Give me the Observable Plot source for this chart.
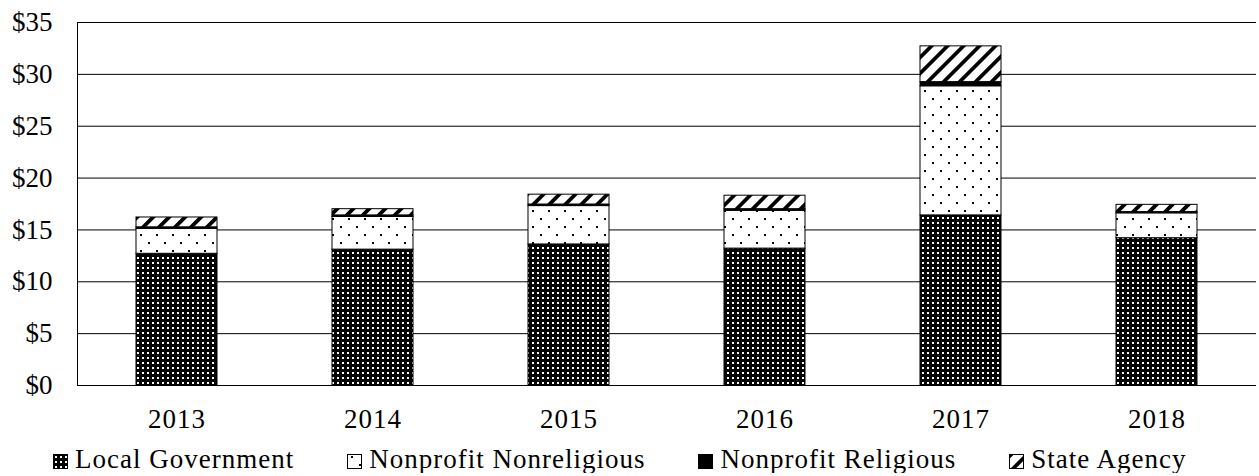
<!DOCTYPE html>
<html>
<head>
<meta charset="utf-8">
<script src="https://cdn.jsdelivr.net/npm/d3@7"></script>
<script src="https://cdn.jsdelivr.net/npm/@observablehq/plot@0.6"></script>
<style>
  html, body { margin: 0; padding: 0; background: white; }
  #chart { width: 1259px; }
  .legend { display: flex; align-items: center; gap: 53px; padding-left: 53px; margin-top: 6px; height: 27px;
            font-family: "Liberation Serif", "Times New Roman", serif; font-size: 27px; line-height: 27px;
            letter-spacing: 1px; color: black; white-space: nowrap; }
  .legend .item { display: flex; align-items: center; gap: 7px; }
  .legend svg { display: block; margin-top: 4px; }
</style>
</head>
<body>
<div id="chart"></div>
<script>
const years = ["2013", "2014", "2015", "2016", "2017", "2018"];
const series = ["Local Government", "Nonprofit Nonreligious", "Nonprofit Religious", "State Agency"];
const localGovernment = [12.7, 13.1, 13.6, 13.2, 16.4, 14.2];
const nonprofitNonreligious = [2.4, 3.15, 3.7, 3.65, 12.45, 2.4];
const nonprofitReligious = [0.15, 0.15, 0.15, 0.15, 0.4, 0.12];
const stateAgency = [0.95, 0.6, 0.95, 1.3, 3.45, 0.7];
const yTicks = [0, 5, 10, 15, 20, 25, 30, 35];
const fills = ["url(#pLocal)", "url(#pNonrel)", "black", "url(#pState)"];

const valuesBySeries = [localGovernment, nonprofitNonreligious, nonprofitReligious, stateAgency];
const data = [];
years.forEach((year, i) => {
  series.forEach((s, j) => data.push({year, series: s, value: valuesBySeries[j][i]}));
});

const font = '"Liberation Serif", "Times New Roman", serif';

const plot = Plot.plot({
  width: 1259,
  height: 440,
  marginLeft: 77,
  marginRight: 3,
  marginTop: 22,
  marginBottom: 55,
  style: {fontFamily: font, fontSize: "27px", background: "white", color: "black"},
  x: {domain: years, paddingInner: 0.588, paddingOuter: 0.294, tickSize: 0, tickPadding: 23, label: null},
  y: {domain: [0, 35], ticks: yTicks, tickSize: 0, tickPadding: 25, tickFormat: d => "$" + d, label: null},
  color: {type: "ordinal", domain: series, range: fills},
  marks: [
    Plot.gridY(yTicks, {stroke: "black", strokeOpacity: 1, strokeWidth: 1}),
    Plot.barY(data, {x: "year", y: "value", fill: "series", stroke: "black", strokeWidth: 1, order: series}),
    Plot.ruleY([0], {stroke: "black", strokeWidth: 1}),
    Plot.frame({anchor: "left", stroke: "black", strokeWidth: 1})
  ]
});

const defs = `
<defs>
  <pattern id="pLocal" patternUnits="userSpaceOnUse" width="5" height="5">
    <rect width="5" height="5" fill="black"/>
    <rect x="2" y="2" width="2" height="2" fill="white"/>
  </pattern>
  <pattern id="pNonrel" patternUnits="userSpaceOnUse" width="16" height="16">
    <rect width="16" height="16" fill="white"/>
    <rect x="4" y="2" width="2" height="2" fill="black"/>
    <rect x="12" y="10" width="2" height="2" fill="black"/>
  </pattern>
  <pattern id="pState" patternUnits="userSpaceOnUse" width="11.3" height="11.3" patternTransform="rotate(45)">
    <rect width="11.3" height="11.3" fill="white"/>
    <rect width="3.8" height="11.3" fill="black"/>
  </pattern>
</defs>`;
plot.insertAdjacentHTML("afterbegin", defs);
d3.select(plot).selectAll('g[aria-label="x-axis tick label"]').attr("letter-spacing", "1px");
document.getElementById("chart").appendChild(plot);

const legend = document.createElement("div");
legend.className = "legend";
series.forEach((s, j) => {
  const item = document.createElement("div");
  item.className = "item";
  item.innerHTML = `<svg width="15" height="15"><rect x="0.5" y="0.5" width="14" height="14" fill="${fills[j]}" stroke="black" stroke-width="1"/></svg><span>${s}</span>`;
  legend.appendChild(item);
});
document.getElementById("chart").appendChild(legend);
</script>
</body>
</html>
